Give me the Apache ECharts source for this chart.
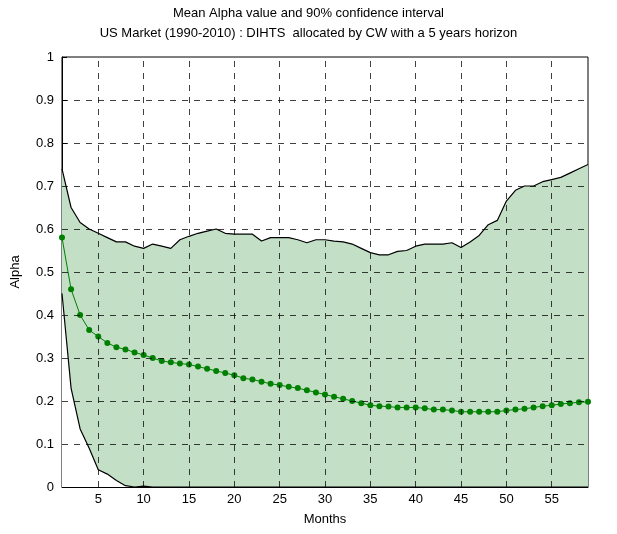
<!DOCTYPE html>
<html><head><meta charset="utf-8">
<script src="https://cdn.jsdelivr.net/npm/echarts@6/dist/echarts.min.js"></script>
<style>html,body{margin:0;background:#fff}#c{width:617px;height:534px}</style>
</head><body><div id="c"></div>
<script>
var months = [];
for (var m = 1; m <= 59; m++) months.push(m);
var meanAlpha = [0.58,0.46,0.40,0.365,0.35,0.335,0.325,0.32,0.313,0.307,0.30,0.293,0.29,0.287,0.285,0.28,0.275,0.27,0.265,0.26,
  0.253,0.25,0.245,0.24,0.237,0.233,0.23,0.225,0.22,0.215,0.21,0.205,0.2,0.195,0.19,0.188,0.187,0.185,0.185,0.185,
  0.183,0.18,0.18,0.178,0.175,0.175,0.175,0.175,0.175,0.178,0.18,0.182,0.185,0.188,0.19,0.193,0.195,0.197,0.198];
var upperCI = [0.74,0.65,0.615,0.6,0.59,0.58,0.57,0.57,0.56,0.555,0.565,0.56,0.555,0.575,0.583,0.59,0.595,0.6,0.59,0.588,
  0.588,0.588,0.572,0.58,0.58,0.58,0.575,0.568,0.575,0.575,0.572,0.57,0.565,0.555,0.545,0.54,0.54,0.548,0.55,0.56,
  0.565,0.565,0.565,0.568,0.557,0.57,0.585,0.61,0.62,0.665,0.69,0.7,0.7,0.71,0.715,0.72,0.73,0.74,0.75];
var lowerCI = [0.45,0.23,0.135,0.09,0.04,0.03,0.015,0.003,0,0.002,0,0,0,0,0,0,0,0,0,0,
  0,0,0,0,0,0,0,0,0,0,0,0,0,0,0,0,0,0,0,0,0,0,0,0,0,0,0,0,0,0,0,0,0,0,0,0,0,0,0];
var xTicks = [5,10,15,20,25,30,35,40,45,50,55];
var yTicks = [0.1,0.2,0.3,0.4,0.5,0.6,0.7,0.8,0.9];

function pairs(v){ return months.map(function(x,i){ return [x, v[i]]; }); }

// dashed grid drawn on top of the shaded band
var gridLines = xTicks.map(function(x){ return {xAxis:x}; })
  .concat(yTicks.map(function(y){ return {yAxis:y}; }));

var chart = echarts.init(document.getElementById('c'));
chart.setOption({
  animation:false,
  textStyle:{fontFamily:'Liberation Sans, Arial'},
  title:{text:'Mean Alpha value and 90% confidence interval\nUS Market (1990-2010) : DIHTS  allocated by CW with a 5 years horizon',
    left:'center', top:-2, textStyle:{fontSize:13, fontWeight:'normal', color:'#000', lineHeight:20}},
  grid:{left:62, right:29, top:57, bottom:47, show:true, borderColor:'#000', borderWidth:1},
  xAxis:{type:'value', min:1, max:59, name:'Months', nameLocation:'middle', nameGap:26,
    nameTextStyle:{fontSize:13,color:'#000'},
    axisLine:{lineStyle:{color:'#000'}},
    axisTick:{customValues:xTicks, inside:true, length:5, lineStyle:{color:'#000'}},
    axisLabel:{customValues:xTicks, color:'#000', fontSize:13, margin:6},
    splitLine:{show:false}},
  yAxis:{type:'value', min:0, max:1, interval:0.1, name:'Alpha', nameLocation:'middle', nameGap:40,
    nameTextStyle:{fontSize:13,color:'#000'},
    axisLine:{show:true, lineStyle:{color:'#000'}},
    axisTick:{inside:true, length:5, lineStyle:{color:'#000'}},
    axisLabel:{color:'#000', fontSize:13, formatter:function(v){return +v.toFixed(1)+'';}},
    splitLine:{show:false}},
  series:[
    {type:'line', data:pairs(upperCI), symbol:'none', lineStyle:{color:'#000', width:1.2},
      areaStyle:{color:'#c3dfc6', opacity:1, origin:'start'}, z:1},
    {type:'line', data:pairs(lowerCI), symbol:'none', lineStyle:{color:'#000', width:1.2},
      areaStyle:{color:'#fff', opacity:1, origin:'start'}, z:2},
    {type:'line', data:[], z:3, markLine:{silent:true, symbol:'none', label:{show:false},
      lineStyle:{color:'#000', type:[6,6], width:1, opacity:0.75}, data:gridLines}},
    {type:'line', data:pairs(meanAlpha), symbol:'circle', symbolSize:6, z:4,
      itemStyle:{color:'#008000'}, lineStyle:{color:'#008000', width:1}}
  ]
});
</script></body></html>
